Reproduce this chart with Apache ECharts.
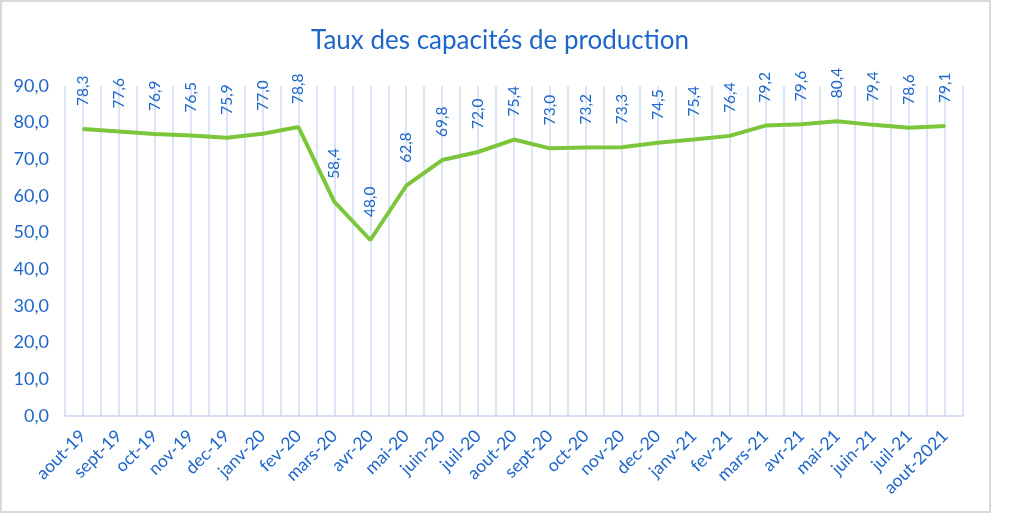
<!DOCTYPE html>
<html><head><meta charset="utf-8">
<script src="https://cdn.jsdelivr.net/npm/echarts@6/dist/echarts.min.js"></script>
<style>html,body{margin:0;padding:0;background:#fff}#c{width:1024px;height:525px}</style>
</head><body><div id="c"></div>
<script>
const categories = ["aout-19","sept-19","oct-19","nov-19","dec-19","janv-20","fev-20","mars-20","avr-20","mai-20","juin-20","juil-20","aout-20","sept-20","oct-20","nov-20","dec-20","janv-21","fev-21","mars-21","avr-21","mai-21","juin-21","juil-21","aout-2021"];
const values = [78.3,77.6,76.9,76.5,75.9,77.0,78.8,58.4,48.0,62.8,69.8,72.0,75.4,73.0,73.2,73.3,74.5,75.4,76.4,79.2,79.6,80.4,79.4,78.6,79.1];
const yTicks = {min:0, max:90, interval:10};
const blue = '#1f66c9';
const font = 'Lato, "Open Sans", sans-serif';
const fmt = v => Number(v).toFixed(1).replace('.', ',');

const chart = echarts.init(document.getElementById('c'));
chart.setOption({
  backgroundColor:'#fff',
  animation:false,
  title:{text:'Taux des capacités de production', left:495, top:23, textAlign:'center',
    textStyle:{color:blue, fontFamily:font, fontSize:26, fontWeight:'normal'}},
  graphic:[{type:'rect', shape:{x:1, y:1, width:989, height:511}, style:{fill:'none', stroke:'#d9d9d9', lineWidth:2}, silent:true, z:-1}],
  grid:{left:65, right:61, top:86, bottom:109},
  xAxis:[{
    type:'category', data:categories, boundaryGap:true,
    axisLine:{show:true, lineStyle:{color:'#c9d6ee', width:1.5}},
    axisTick:{show:false},
    splitLine:{show:false},
    axisLabel:{rotate:45, color:blue, fontFamily:font, fontSize:17.5, interval:0, margin:17}
  },{
    type:'value', min:0, max:50, interval:1, position:'top', show:true,
    axisLine:{show:false}, axisTick:{show:false}, axisLabel:{show:false},
    splitLine:{show:true, lineStyle:{color:'#cfdcf3', width:1.5}}
  }],
  yAxis:{
    type:'value', min:yTicks.min, max:yTicks.max, interval:yTicks.interval,
    axisLine:{show:false}, axisTick:{show:false}, splitLine:{show:false},
    axisLabel:{color:blue, fontFamily:font, fontSize:18, margin:16, formatter:fmt}
  },
  series:[{
    type:'line', data:values, xAxisIndex:0, yAxisIndex:0, symbol:'circle', symbolSize:2, showSymbol:true,
    itemStyle:{color:'#7cc63c'},
    lineStyle:{color:'#7cc63c', width:4},
    labelLayout:{hideOverlap:false},
    label:{show:true, position:'top', rotate:90, align:'left', verticalAlign:'middle', distance:22,
      color:blue, fontFamily:font, fontSize:15.5, formatter:p=>fmt(p.value)}
  }]
});
</script></body></html>
